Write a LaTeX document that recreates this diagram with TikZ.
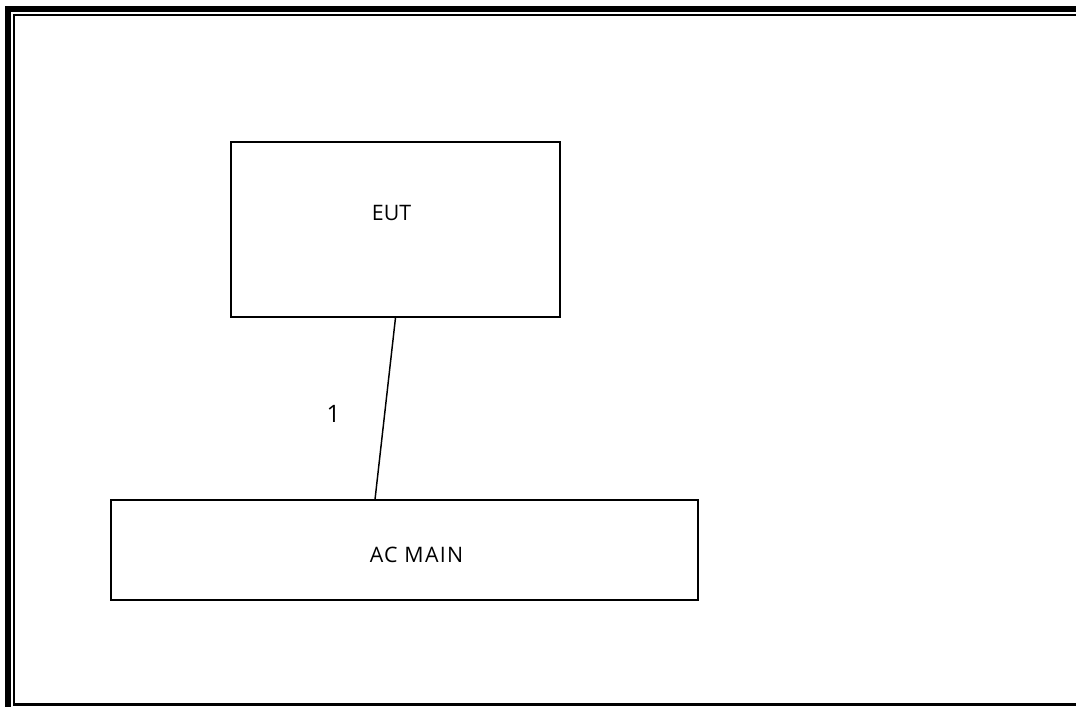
\documentclass[tikz,border=0pt]{standalone}
\usepackage{fontspec}
\setmainfont{Open Sans}
\begin{document}
\begin{tikzpicture}[x=0.75pt,y=-0.75pt,
  unitbox/.style={draw=black,line width=1.1pt,fill=white,inner sep=0pt,minimum width=#1},
  boxtext/.style={font=\fontsize{16}{19}\selectfont,inner sep=0pt,anchor=center},
  wire/.style={draw=black,line width=1.1pt}]
\useasboundingbox (0,0) rectangle (1076,707);
\fill[white] (0,0) rectangle (1076,707);
\begin{scope}
  \clip (0,0) rectangle (1076,707);
  % page frame: heavy outer rule and thin inner rule
  \draw[line width=4.5pt] (8,9) rectangle (1100,730);
  \draw[line width=1.75pt] (14,15) rectangle (1090,704.5);
\end{scope}
% equipment under test
\node[unitbox=329*0.75pt,minimum height=175*0.75pt] (eut) at (395.5,229.5) {};
\node[boxtext] (euttext) at (391.5,213) {EUT};
% mains supply
\node[unitbox=587*0.75pt,minimum height=100*0.75pt] (acmain) at (404.5,550) {};
\node[boxtext,font=\fontsize{16}{19}\selectfont\addfontfeatures{LetterSpace=6}] (acmaintext) at (416.5,555) {AC MAIN};
% cable 1
\draw[wire] (eut.south) -- ([xshift=-22.1pt]acmain.north);
\node[boxtext,font=\fontsize{18}{21}\selectfont] (cable) at (333.5,413.5) {1};
\end{tikzpicture}
\end{document}
